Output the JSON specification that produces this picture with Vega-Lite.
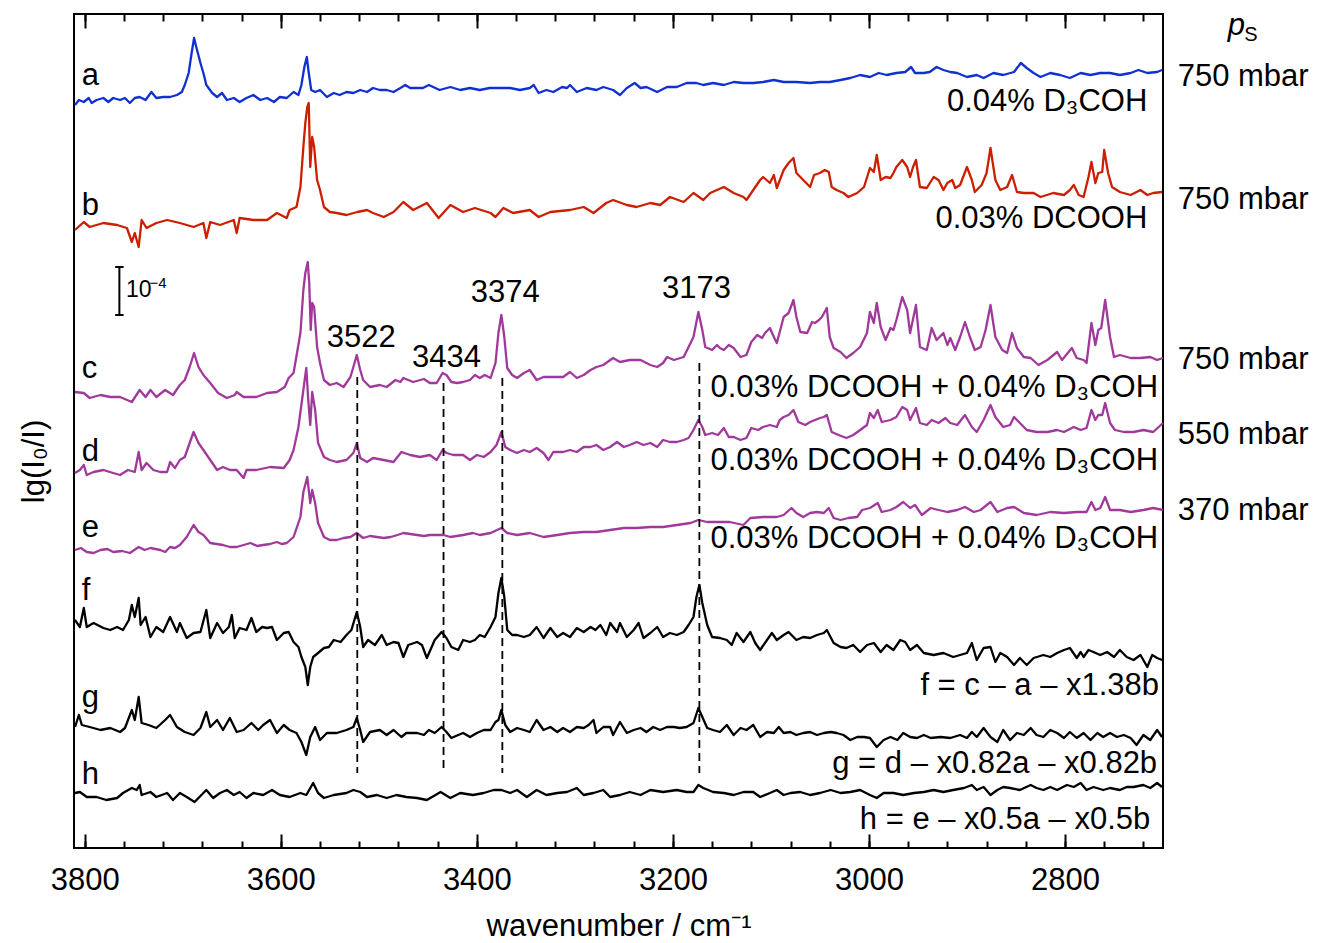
{
"$schema": "https://vega.github.io/schema/vega-lite/v6.json",
"width": 1089, "height": 834,
"autosize": {"type": "none"},
"padding": {"left": 74, "top": 14, "right": 154, "bottom": 95},
"config": {"font": "Liberation Sans", "view": {"stroke": "black", "strokeWidth": 2}, "axis": {"grid": false}},
"resolve": {"axis": {"x": "independent", "y": "independent"}},
"datasets": {
"tr": [
{"s":"a","w":3810,"v":747},{"s":"a","w":3806,"v":752},{"s":"a","w":3801,"v":750},{"s":"a","w":3796,"v":754},{"s":"a","w":3793,"v":749},{"s":"a","w":3788,"v":752},{"s":"a","w":3781,"v":754},{"s":"a","w":3776,"v":750},{"s":"a","w":3771,"v":754},{"s":"a","w":3764,"v":752},{"s":"a","w":3759,"v":754},{"s":"a","w":3754,"v":749},{"s":"a","w":3749,"v":754},{"s":"a","w":3744,"v":755},{"s":"a","w":3738,"v":752},{"s":"a","w":3732,"v":760},{"s":"a","w":3727,"v":754},{"s":"a","w":3720,"v":755},{"s":"a","w":3713,"v":755},{"s":"a","w":3706,"v":757},{"s":"a","w":3701,"v":760},{"s":"a","w":3698,"v":767},{"s":"a","w":3694,"v":779},{"s":"a","w":3691,"v":799},{"s":"a","w":3688.5,"v":814},{"s":"a","w":3686,"v":804},{"s":"a","w":3682,"v":789},{"s":"a","w":3679,"v":779},{"s":"a","w":3676,"v":767},{"s":"a","w":3670,"v":759},{"s":"a","w":3665,"v":755},{"s":"a","w":3660,"v":759},{"s":"a","w":3655,"v":752},{"s":"a","w":3648,"v":754},{"s":"a","w":3642,"v":750},{"s":"a","w":3635,"v":754},{"s":"a","w":3628,"v":757},{"s":"a","w":3621,"v":752},{"s":"a","w":3614,"v":754},{"s":"a","w":3607,"v":750},{"s":"a","w":3601,"v":755},{"s":"a","w":3594,"v":754},{"s":"a","w":3587,"v":760},{"s":"a","w":3582,"v":757},{"s":"a","w":3579,"v":767},{"s":"a","w":3576,"v":785},{"s":"a","w":3573.5,"v":795},{"s":"a","w":3571.5,"v":779},{"s":"a","w":3569,"v":762},{"s":"a","w":3565,"v":760},{"s":"a","w":3560,"v":762},{"s":"a","w":3553,"v":755},{"s":"a","w":3546,"v":759},{"s":"a","w":3540,"v":757},{"s":"a","w":3533,"v":760},{"s":"a","w":3526,"v":759},{"s":"a","w":3519,"v":762},{"s":"a","w":3512,"v":760},{"s":"a","w":3506,"v":764},{"s":"a","w":3499,"v":762},{"s":"a","w":3492,"v":762},{"s":"a","w":3485,"v":760},{"s":"a","w":3478,"v":764},{"s":"a","w":3473,"v":767},{"s":"a","w":3468,"v":764},{"s":"a","w":3461,"v":764},{"s":"a","w":3455,"v":764},{"s":"a","w":3449,"v":767},{"s":"a","w":3438,"v":762},{"s":"a","w":3427,"v":765},{"s":"a","w":3417,"v":762},{"s":"a","w":3407,"v":764},{"s":"a","w":3397,"v":762},{"s":"a","w":3387,"v":764},{"s":"a","w":3376,"v":764},{"s":"a","w":3366,"v":764},{"s":"a","w":3356,"v":762},{"s":"a","w":3346,"v":764},{"s":"a","w":3342,"v":767},{"s":"a","w":3337,"v":759},{"s":"a","w":3329,"v":762},{"s":"a","w":3322,"v":760},{"s":"a","w":3313,"v":765},{"s":"a","w":3308,"v":764},{"s":"a","w":3305,"v":767},{"s":"a","w":3298,"v":760},{"s":"a","w":3288,"v":764},{"s":"a","w":3278,"v":762},{"s":"a","w":3271,"v":765},{"s":"a","w":3261,"v":762},{"s":"a","w":3254,"v":757},{"s":"a","w":3247,"v":764},{"s":"a","w":3239,"v":769},{"s":"a","w":3233,"v":764},{"s":"a","w":3227,"v":765},{"s":"a","w":3216,"v":760},{"s":"a","w":3206,"v":765},{"s":"a","w":3196,"v":765},{"s":"a","w":3186,"v":769},{"s":"a","w":3176,"v":769},{"s":"a","w":3169,"v":767},{"s":"a","w":3159,"v":769},{"s":"a","w":3148,"v":767},{"s":"a","w":3138,"v":770},{"s":"a","w":3128,"v":769},{"s":"a","w":3118,"v":769},{"s":"a","w":3108,"v":770},{"s":"a","w":3097,"v":772},{"s":"a","w":3087,"v":770},{"s":"a","w":3074,"v":770},{"s":"a","w":3060,"v":769},{"s":"a","w":3050,"v":770},{"s":"a","w":3040,"v":770},{"s":"a","w":3029,"v":772},{"s":"a","w":3019,"v":774},{"s":"a","w":3009,"v":777},{"s":"a","w":2999,"v":775},{"s":"a","w":2990,"v":779},{"s":"a","w":2982,"v":777},{"s":"a","w":2972,"v":779},{"s":"a","w":2963,"v":780},{"s":"a","w":2957,"v":785},{"s":"a","w":2953,"v":779},{"s":"a","w":2944,"v":779},{"s":"a","w":2938,"v":780},{"s":"a","w":2931,"v":785},{"s":"a","w":2924,"v":782},{"s":"a","w":2917,"v":780},{"s":"a","w":2910,"v":779},{"s":"a","w":2900,"v":775},{"s":"a","w":2890,"v":777},{"s":"a","w":2883,"v":774},{"s":"a","w":2873,"v":779},{"s":"a","w":2863,"v":777},{"s":"a","w":2852,"v":780},{"s":"a","w":2845,"v":789},{"s":"a","w":2839,"v":784},{"s":"a","w":2832,"v":779},{"s":"a","w":2825,"v":775},{"s":"a","w":2815,"v":779},{"s":"a","w":2805,"v":777},{"s":"a","w":2795,"v":774},{"s":"a","w":2784,"v":779},{"s":"a","w":2774,"v":777},{"s":"a","w":2764,"v":779},{"s":"a","w":2754,"v":779},{"s":"a","w":2744,"v":777},{"s":"a","w":2733,"v":779},{"s":"a","w":2725,"v":782},{"s":"a","w":2716,"v":779},{"s":"a","w":2706,"v":780},{"s":"a","w":2701,"v":782},
{"s":"b","w":3810,"v":622},{"s":"b","w":3801,"v":630},{"s":"b","w":3795,"v":625},{"s":"b","w":3781,"v":629},{"s":"b","w":3767,"v":627},{"s":"b","w":3757,"v":624},{"s":"b","w":3752,"v":610},{"s":"b","w":3749,"v":619},{"s":"b","w":3745,"v":605},{"s":"b","w":3742,"v":632},{"s":"b","w":3737,"v":624},{"s":"b","w":3727,"v":629},{"s":"b","w":3716,"v":632},{"s":"b","w":3703,"v":629},{"s":"b","w":3689,"v":625},{"s":"b","w":3679,"v":629},{"s":"b","w":3676,"v":614},{"s":"b","w":3672,"v":630},{"s":"b","w":3662,"v":627},{"s":"b","w":3648,"v":632},{"s":"b","w":3645,"v":619},{"s":"b","w":3642,"v":634},{"s":"b","w":3628,"v":632},{"s":"b","w":3614,"v":632},{"s":"b","w":3604,"v":639},{"s":"b","w":3594,"v":634},{"s":"b","w":3591,"v":642},{"s":"b","w":3584,"v":645},{"s":"b","w":3580,"v":665},{"s":"b","w":3577,"v":705},{"s":"b","w":3575,"v":729},{"s":"b","w":3573,"v":745},{"s":"b","w":3571.5,"v":749},{"s":"b","w":3570,"v":685},{"s":"b","w":3568,"v":715},{"s":"b","w":3566,"v":705},{"s":"b","w":3563,"v":672},{"s":"b","w":3560,"v":662},{"s":"b","w":3556,"v":645},{"s":"b","w":3550,"v":640},{"s":"b","w":3543,"v":639},{"s":"b","w":3533,"v":637},{"s":"b","w":3522,"v":640},{"s":"b","w":3512,"v":642},{"s":"b","w":3506,"v":639},{"s":"b","w":3495,"v":635},{"s":"b","w":3485,"v":640},{"s":"b","w":3475,"v":650},{"s":"b","w":3465,"v":642},{"s":"b","w":3451,"v":649},{"s":"b","w":3439,"v":634},{"s":"b","w":3427,"v":647},{"s":"b","w":3414,"v":640},{"s":"b","w":3402,"v":644},{"s":"b","w":3386,"v":639},{"s":"b","w":3381,"v":635},{"s":"b","w":3373,"v":644},{"s":"b","w":3363,"v":639},{"s":"b","w":3346,"v":642},{"s":"b","w":3337,"v":635},{"s":"b","w":3325,"v":640},{"s":"b","w":3305,"v":642},{"s":"b","w":3291,"v":645},{"s":"b","w":3281,"v":639},{"s":"b","w":3268,"v":649},{"s":"b","w":3261,"v":652},{"s":"b","w":3247,"v":647},{"s":"b","w":3237,"v":645},{"s":"b","w":3223,"v":649},{"s":"b","w":3213,"v":647},{"s":"b","w":3203,"v":655},{"s":"b","w":3189,"v":650},{"s":"b","w":3179,"v":659},{"s":"b","w":3169,"v":652},{"s":"b","w":3162,"v":659},{"s":"b","w":3148,"v":665},{"s":"b","w":3138,"v":659},{"s":"b","w":3128,"v":655},{"s":"b","w":3125,"v":652},{"s":"b","w":3118,"v":662},{"s":"b","w":3111,"v":672},{"s":"b","w":3108,"v":675},{"s":"b","w":3101,"v":669},{"s":"b","w":3097,"v":677},{"s":"b","w":3094,"v":664},{"s":"b","w":3087,"v":682},{"s":"b","w":3082,"v":689},{"s":"b","w":3077,"v":694},{"s":"b","w":3074,"v":679},{"s":"b","w":3067,"v":672},{"s":"b","w":3060,"v":665},{"s":"b","w":3056,"v":677},{"s":"b","w":3050,"v":679},{"s":"b","w":3045,"v":682},{"s":"b","w":3041,"v":680},{"s":"b","w":3038,"v":665},{"s":"b","w":3033,"v":662},{"s":"b","w":3026,"v":659},{"s":"b","w":3021,"v":655},{"s":"b","w":3012,"v":659},{"s":"b","w":3005,"v":665},{"s":"b","w":2999,"v":684},{"s":"b","w":2995,"v":680},{"s":"b","w":2992,"v":697},{"s":"b","w":2988,"v":672},{"s":"b","w":2983,"v":675},{"s":"b","w":2978,"v":674},{"s":"b","w":2975,"v":679},{"s":"b","w":2972,"v":685},{"s":"b","w":2966,"v":692},{"s":"b","w":2961,"v":685},{"s":"b","w":2958,"v":675},{"s":"b","w":2955,"v":685},{"s":"b","w":2952,"v":692},{"s":"b","w":2948,"v":665},{"s":"b","w":2941,"v":664},{"s":"b","w":2934,"v":675},{"s":"b","w":2929,"v":672},{"s":"b","w":2924,"v":662},{"s":"b","w":2920,"v":669},{"s":"b","w":2915,"v":672},{"s":"b","w":2912,"v":664},{"s":"b","w":2907,"v":667},{"s":"b","w":2900,"v":685},{"s":"b","w":2895,"v":672},{"s":"b","w":2892,"v":660},{"s":"b","w":2885,"v":667},{"s":"b","w":2880,"v":679},{"s":"b","w":2876,"v":704},{"s":"b","w":2871,"v":672},{"s":"b","w":2866,"v":662},{"s":"b","w":2859,"v":665},{"s":"b","w":2854,"v":677},{"s":"b","w":2849,"v":660},{"s":"b","w":2842,"v":659},{"s":"b","w":2832,"v":659},{"s":"b","w":2825,"v":655},{"s":"b","w":2812,"v":659},{"s":"b","w":2801,"v":657},{"s":"b","w":2795,"v":662},{"s":"b","w":2791,"v":667},{"s":"b","w":2786,"v":657},{"s":"b","w":2781,"v":655},{"s":"b","w":2776,"v":675},{"s":"b","w":2773,"v":690},{"s":"b","w":2769,"v":669},{"s":"b","w":2766,"v":679},{"s":"b","w":2762,"v":680},{"s":"b","w":2760,"v":702},{"s":"b","w":2756,"v":679},{"s":"b","w":2752,"v":665},{"s":"b","w":2744,"v":660},{"s":"b","w":2733,"v":657},{"s":"b","w":2723,"v":662},{"s":"b","w":2716,"v":657},{"s":"b","w":2710,"v":659},{"s":"b","w":2701,"v":660},
{"s":"c","w":3810,"v":460},{"s":"c","w":3801,"v":459},{"s":"c","w":3795,"v":454},{"s":"c","w":3784,"v":457},{"s":"c","w":3774,"v":455},{"s":"c","w":3764,"v":455},{"s":"c","w":3752,"v":450},{"s":"c","w":3744,"v":462},{"s":"c","w":3738,"v":455},{"s":"c","w":3733,"v":462},{"s":"c","w":3727,"v":455},{"s":"c","w":3718,"v":462},{"s":"c","w":3710,"v":457},{"s":"c","w":3703,"v":467},{"s":"c","w":3698,"v":472},{"s":"c","w":3693,"v":485},{"s":"c","w":3688.5,"v":499},{"s":"c","w":3684,"v":485},{"s":"c","w":3679,"v":477},{"s":"c","w":3672,"v":469},{"s":"c","w":3664,"v":459},{"s":"c","w":3655,"v":454},{"s":"c","w":3647,"v":457},{"s":"c","w":3645,"v":460},{"s":"c","w":3638,"v":455},{"s":"c","w":3625,"v":455},{"s":"c","w":3614,"v":459},{"s":"c","w":3604,"v":460},{"s":"c","w":3596,"v":465},{"s":"c","w":3592,"v":474},{"s":"c","w":3587,"v":479},{"s":"c","w":3580,"v":519},{"s":"c","w":3577,"v":562},{"s":"c","w":3575,"v":579},{"s":"c","w":3572.5,"v":590},{"s":"c","w":3571,"v":569},{"s":"c","w":3569.5,"v":522},{"s":"c","w":3568,"v":549},{"s":"c","w":3566,"v":545},{"s":"c","w":3563,"v":505},{"s":"c","w":3560,"v":489},{"s":"c","w":3556,"v":472},{"s":"c","w":3550,"v":467},{"s":"c","w":3543,"v":469},{"s":"c","w":3536,"v":465},{"s":"c","w":3529,"v":475},{"s":"c","w":3526,"v":485},{"s":"c","w":3522.5,"v":497},{"s":"c","w":3519,"v":482},{"s":"c","w":3516,"v":472},{"s":"c","w":3509,"v":465},{"s":"c","w":3499,"v":467},{"s":"c","w":3492,"v":465},{"s":"c","w":3483,"v":472},{"s":"c","w":3478,"v":470},{"s":"c","w":3475,"v":474},{"s":"c","w":3465,"v":470},{"s":"c","w":3454,"v":473},{"s":"c","w":3448,"v":469},{"s":"c","w":3441,"v":469},{"s":"c","w":3435,"v":479},{"s":"c","w":3431,"v":477},{"s":"c","w":3426,"v":470},{"s":"c","w":3420,"v":469},{"s":"c","w":3414,"v":470},{"s":"c","w":3407,"v":472},{"s":"c","w":3402,"v":477},{"s":"c","w":3397,"v":474},{"s":"c","w":3392,"v":477},{"s":"c","w":3386,"v":474},{"s":"c","w":3381,"v":489},{"s":"c","w":3378,"v":519},{"s":"c","w":3375,"v":537},{"s":"c","w":3372,"v":515},{"s":"c","w":3369,"v":484},{"s":"c","w":3364,"v":477},{"s":"c","w":3359,"v":474},{"s":"c","w":3352,"v":479},{"s":"c","w":3346,"v":482},{"s":"c","w":3339,"v":472},{"s":"c","w":3332,"v":475},{"s":"c","w":3322,"v":475},{"s":"c","w":3312,"v":475},{"s":"c","w":3305,"v":480},{"s":"c","w":3298,"v":474},{"s":"c","w":3291,"v":477},{"s":"c","w":3284,"v":482},{"s":"c","w":3278,"v":485},{"s":"c","w":3271,"v":487},{"s":"c","w":3261,"v":494},{"s":"c","w":3254,"v":490},{"s":"c","w":3244,"v":492},{"s":"c","w":3233,"v":492},{"s":"c","w":3223,"v":487},{"s":"c","w":3216,"v":485},{"s":"c","w":3210,"v":489},{"s":"c","w":3206,"v":495},{"s":"c","w":3199,"v":492},{"s":"c","w":3189,"v":495},{"s":"c","w":3179,"v":515},{"s":"c","w":3174,"v":540},{"s":"c","w":3170,"v":522},{"s":"c","w":3167,"v":505},{"s":"c","w":3160,"v":502},{"s":"c","w":3155,"v":507},{"s":"c","w":3152,"v":504},{"s":"c","w":3148,"v":502},{"s":"c","w":3143,"v":507},{"s":"c","w":3138,"v":504},{"s":"c","w":3131,"v":495},{"s":"c","w":3125,"v":497},{"s":"c","w":3120,"v":510},{"s":"c","w":3114,"v":517},{"s":"c","w":3109,"v":514},{"s":"c","w":3106,"v":519},{"s":"c","w":3101,"v":524},{"s":"c","w":3097,"v":515},{"s":"c","w":3094,"v":509},{"s":"c","w":3091,"v":520},{"s":"c","w":3087,"v":535},{"s":"c","w":3082,"v":539},{"s":"c","w":3077,"v":552},{"s":"c","w":3074,"v":535},{"s":"c","w":3070,"v":520},{"s":"c","w":3063,"v":519},{"s":"c","w":3058,"v":530},{"s":"c","w":3055,"v":529},{"s":"c","w":3051,"v":532},{"s":"c","w":3048,"v":535},{"s":"c","w":3043,"v":544},{"s":"c","w":3040,"v":515},{"s":"c","w":3036,"v":504},{"s":"c","w":3029,"v":500},{"s":"c","w":3023,"v":494},{"s":"c","w":3016,"v":499},{"s":"c","w":3009,"v":505},{"s":"c","w":3002,"v":519},{"s":"c","w":2999,"v":540},{"s":"c","w":2995,"v":529},{"s":"c","w":2992,"v":549},{"s":"c","w":2988,"v":525},{"s":"c","w":2983,"v":512},{"s":"c","w":2978,"v":524},{"s":"c","w":2975,"v":522},{"s":"c","w":2972,"v":532},{"s":"c","w":2966,"v":555},{"s":"c","w":2961,"v":542},{"s":"c","w":2958,"v":519},{"s":"c","w":2952,"v":547},{"s":"c","w":2948,"v":505},{"s":"c","w":2941,"v":502},{"s":"c","w":2936,"v":524},{"s":"c","w":2931,"v":512},{"s":"c","w":2924,"v":519},{"s":"c","w":2920,"v":507},{"s":"c","w":2917,"v":514},{"s":"c","w":2912,"v":502},{"s":"c","w":2907,"v":515},{"s":"c","w":2902,"v":530},{"s":"c","w":2897,"v":515},{"s":"c","w":2892,"v":502},{"s":"c","w":2886,"v":505},{"s":"c","w":2881,"v":522},{"s":"c","w":2876,"v":547},{"s":"c","w":2871,"v":515},{"s":"c","w":2864,"v":502},{"s":"c","w":2859,"v":499},{"s":"c","w":2854,"v":519},{"s":"c","w":2849,"v":504},{"s":"c","w":2842,"v":495},{"s":"c","w":2835,"v":494},{"s":"c","w":2827,"v":487},{"s":"c","w":2818,"v":492},{"s":"c","w":2808,"v":500},{"s":"c","w":2803,"v":492},{"s":"c","w":2793,"v":504},{"s":"c","w":2788,"v":494},{"s":"c","w":2781,"v":492},{"s":"c","w":2778,"v":489},{"s":"c","w":2773,"v":529},{"s":"c","w":2769,"v":507},{"s":"c","w":2766,"v":522},{"s":"c","w":2763,"v":524},{"s":"c","w":2759,"v":552},{"s":"c","w":2754,"v":515},{"s":"c","w":2750,"v":495},{"s":"c","w":2744,"v":497},{"s":"c","w":2733,"v":494},{"s":"c","w":2723,"v":494},{"s":"c","w":2713,"v":495},{"s":"c","w":2706,"v":492},{"s":"c","w":2700,"v":494},
{"s":"d","w":3810,"v":379},{"s":"d","w":3805,"v":382},{"s":"d","w":3801,"v":387},{"s":"d","w":3798,"v":377},{"s":"d","w":3791,"v":380},{"s":"d","w":3781,"v":382},{"s":"d","w":3771,"v":379},{"s":"d","w":3764,"v":377},{"s":"d","w":3756,"v":382},{"s":"d","w":3749,"v":380},{"s":"d","w":3745,"v":400},{"s":"d","w":3742,"v":382},{"s":"d","w":3737,"v":389},{"s":"d","w":3730,"v":382},{"s":"d","w":3723,"v":380},{"s":"d","w":3716,"v":380},{"s":"d","w":3713,"v":390},{"s":"d","w":3708,"v":384},{"s":"d","w":3703,"v":392},{"s":"d","w":3698,"v":395},{"s":"d","w":3693,"v":409},{"s":"d","w":3689,"v":420},{"s":"d","w":3684,"v":409},{"s":"d","w":3679,"v":402},{"s":"d","w":3672,"v":392},{"s":"d","w":3665,"v":382},{"s":"d","w":3659,"v":385},{"s":"d","w":3652,"v":382},{"s":"d","w":3645,"v":382},{"s":"d","w":3638,"v":374},{"s":"d","w":3635,"v":382},{"s":"d","w":3625,"v":382},{"s":"d","w":3611,"v":385},{"s":"d","w":3597,"v":384},{"s":"d","w":3591,"v":392},{"s":"d","w":3587,"v":402},{"s":"d","w":3582,"v":425},{"s":"d","w":3577,"v":462},{"s":"d","w":3574,"v":484},{"s":"d","w":3572,"v":452},{"s":"d","w":3570,"v":427},{"s":"d","w":3568,"v":460},{"s":"d","w":3565,"v":442},{"s":"d","w":3562,"v":409},{"s":"d","w":3556,"v":395},{"s":"d","w":3550,"v":392},{"s":"d","w":3543,"v":390},{"s":"d","w":3533,"v":392},{"s":"d","w":3526,"v":399},{"s":"d","w":3522.5,"v":409},{"s":"d","w":3519,"v":394},{"s":"d","w":3512,"v":390},{"s":"d","w":3506,"v":394},{"s":"d","w":3495,"v":392},{"s":"d","w":3485,"v":390},{"s":"d","w":3477,"v":400},{"s":"d","w":3468,"v":397},{"s":"d","w":3458,"v":395},{"s":"d","w":3448,"v":397},{"s":"d","w":3441,"v":392},{"s":"d","w":3435,"v":402},{"s":"d","w":3431,"v":399},{"s":"d","w":3424,"v":397},{"s":"d","w":3414,"v":397},{"s":"d","w":3407,"v":392},{"s":"d","w":3400,"v":397},{"s":"d","w":3393,"v":395},{"s":"d","w":3386,"v":400},{"s":"d","w":3380,"v":407},{"s":"d","w":3375,"v":420},{"s":"d","w":3371,"v":405},{"s":"d","w":3366,"v":402},{"s":"d","w":3359,"v":399},{"s":"d","w":3352,"v":402},{"s":"d","w":3346,"v":400},{"s":"d","w":3339,"v":404},{"s":"d","w":3332,"v":399},{"s":"d","w":3327,"v":392},{"s":"d","w":3322,"v":400},{"s":"d","w":3312,"v":400},{"s":"d","w":3305,"v":402},{"s":"d","w":3298,"v":400},{"s":"d","w":3291,"v":405},{"s":"d","w":3284,"v":405},{"s":"d","w":3278,"v":407},{"s":"d","w":3271,"v":402},{"s":"d","w":3264,"v":405},{"s":"d","w":3257,"v":410},{"s":"d","w":3250,"v":405},{"s":"d","w":3244,"v":407},{"s":"d","w":3237,"v":410},{"s":"d","w":3230,"v":407},{"s":"d","w":3223,"v":409},{"s":"d","w":3216,"v":405},{"s":"d","w":3210,"v":412},{"s":"d","w":3203,"v":410},{"s":"d","w":3196,"v":410},{"s":"d","w":3189,"v":412},{"s":"d","w":3184,"v":414},{"s":"d","w":3179,"v":422},{"s":"d","w":3174,"v":432},{"s":"d","w":3170,"v":425},{"s":"d","w":3167,"v":417},{"s":"d","w":3160,"v":419},{"s":"d","w":3154,"v":417},{"s":"d","w":3148,"v":424},{"s":"d","w":3143,"v":415},{"s":"d","w":3138,"v":415},{"s":"d","w":3131,"v":412},{"s":"d","w":3125,"v":414},{"s":"d","w":3120,"v":424},{"s":"d","w":3113,"v":422},{"s":"d","w":3108,"v":425},{"s":"d","w":3101,"v":427},{"s":"d","w":3094,"v":425},{"s":"d","w":3091,"v":432},{"s":"d","w":3087,"v":435},{"s":"d","w":3082,"v":437},{"s":"d","w":3077,"v":442},{"s":"d","w":3072,"v":430},{"s":"d","w":3065,"v":427},{"s":"d","w":3060,"v":430},{"s":"d","w":3055,"v":432},{"s":"d","w":3050,"v":434},{"s":"d","w":3046,"v":435},{"s":"d","w":3043,"v":437},{"s":"d","w":3038,"v":420},{"s":"d","w":3031,"v":417},{"s":"d","w":3023,"v":414},{"s":"d","w":3016,"v":417},{"s":"d","w":3009,"v":422},{"s":"d","w":3002,"v":427},{"s":"d","w":2999,"v":439},{"s":"d","w":2995,"v":434},{"s":"d","w":2991,"v":442},{"s":"d","w":2987,"v":430},{"s":"d","w":2978,"v":432},{"s":"d","w":2972,"v":435},{"s":"d","w":2966,"v":445},{"s":"d","w":2961,"v":442},{"s":"d","w":2958,"v":432},{"s":"d","w":2952,"v":444},{"s":"d","w":2948,"v":429},{"s":"d","w":2941,"v":427},{"s":"d","w":2936,"v":432},{"s":"d","w":2929,"v":429},{"s":"d","w":2922,"v":434},{"s":"d","w":2917,"v":429},{"s":"d","w":2910,"v":427},{"s":"d","w":2902,"v":437},{"s":"d","w":2895,"v":425},{"s":"d","w":2890,"v":420},{"s":"d","w":2883,"v":432},{"s":"d","w":2876,"v":447},{"s":"d","w":2871,"v":435},{"s":"d","w":2863,"v":425},{"s":"d","w":2856,"v":427},{"s":"d","w":2852,"v":435},{"s":"d","w":2846,"v":429},{"s":"d","w":2839,"v":422},{"s":"d","w":2829,"v":420},{"s":"d","w":2818,"v":420},{"s":"d","w":2808,"v":422},{"s":"d","w":2801,"v":420},{"s":"d","w":2791,"v":425},{"s":"d","w":2784,"v":422},{"s":"d","w":2778,"v":424},{"s":"d","w":2773,"v":442},{"s":"d","w":2769,"v":432},{"s":"d","w":2766,"v":437},{"s":"d","w":2762,"v":437},{"s":"d","w":2759,"v":449},{"s":"d","w":2754,"v":429},{"s":"d","w":2749,"v":422},{"s":"d","w":2740,"v":420},{"s":"d","w":2730,"v":420},{"s":"d","w":2720,"v":422},{"s":"d","w":2710,"v":420},{"s":"d","w":2700,"v":429},
{"s":"e","w":3810,"v":302},{"s":"e","w":3804,"v":304},{"s":"e","w":3798,"v":300},{"s":"e","w":3791,"v":299},{"s":"e","w":3784,"v":302},{"s":"e","w":3777,"v":303},{"s":"e","w":3771,"v":300},{"s":"e","w":3762,"v":301},{"s":"e","w":3754,"v":299},{"s":"e","w":3745,"v":305},{"s":"e","w":3739,"v":302},{"s":"e","w":3733,"v":304},{"s":"e","w":3723,"v":302},{"s":"e","w":3718,"v":300},{"s":"e","w":3713,"v":305},{"s":"e","w":3708,"v":304},{"s":"e","w":3703,"v":307},{"s":"e","w":3696,"v":315},{"s":"e","w":3689,"v":327},{"s":"e","w":3684,"v":320},{"s":"e","w":3679,"v":317},{"s":"e","w":3672,"v":309},{"s":"e","w":3659,"v":307},{"s":"e","w":3652,"v":305},{"s":"e","w":3645,"v":305},{"s":"e","w":3638,"v":307},{"s":"e","w":3631,"v":309},{"s":"e","w":3624,"v":306},{"s":"e","w":3618,"v":307},{"s":"e","w":3611,"v":308},{"s":"e","w":3604,"v":310},{"s":"e","w":3599,"v":308},{"s":"e","w":3594,"v":309},{"s":"e","w":3587,"v":315},{"s":"e","w":3580,"v":335},{"s":"e","w":3577,"v":360},{"s":"e","w":3573,"v":375},{"s":"e","w":3570,"v":349},{"s":"e","w":3568,"v":362},{"s":"e","w":3565,"v":349},{"s":"e","w":3562,"v":329},{"s":"e","w":3556,"v":315},{"s":"e","w":3550,"v":312},{"s":"e","w":3543,"v":312},{"s":"e","w":3536,"v":314},{"s":"e","w":3529,"v":315},{"s":"e","w":3522.5,"v":319},{"s":"e","w":3516,"v":314},{"s":"e","w":3509,"v":316},{"s":"e","w":3502,"v":315},{"s":"e","w":3495,"v":314},{"s":"e","w":3488,"v":315},{"s":"e","w":3481,"v":317},{"s":"e","w":3475,"v":319},{"s":"e","w":3468,"v":318},{"s":"e","w":3461,"v":317},{"s":"e","w":3454,"v":316},{"s":"e","w":3448,"v":317},{"s":"e","w":3434,"v":317},{"s":"e","w":3427,"v":315},{"s":"e","w":3414,"v":317},{"s":"e","w":3404,"v":319},{"s":"e","w":3397,"v":317},{"s":"e","w":3386,"v":319},{"s":"e","w":3375,"v":324},{"s":"e","w":3369,"v":319},{"s":"e","w":3359,"v":317},{"s":"e","w":3346,"v":319},{"s":"e","w":3332,"v":315},{"s":"e","w":3318,"v":317},{"s":"e","w":3305,"v":319},{"s":"e","w":3291,"v":320},{"s":"e","w":3278,"v":320},{"s":"e","w":3264,"v":322},{"s":"e","w":3250,"v":324},{"s":"e","w":3237,"v":324},{"s":"e","w":3223,"v":325},{"s":"e","w":3210,"v":325},{"s":"e","w":3196,"v":327},{"s":"e","w":3182,"v":329},{"s":"e","w":3174,"v":332},{"s":"e","w":3165,"v":330},{"s":"e","w":3155,"v":330},{"s":"e","w":3142,"v":330},{"s":"e","w":3128,"v":327},{"s":"e","w":3121,"v":334},{"s":"e","w":3108,"v":335},{"s":"e","w":3094,"v":335},{"s":"e","w":3087,"v":337},{"s":"e","w":3079,"v":344},{"s":"e","w":3074,"v":339},{"s":"e","w":3067,"v":335},{"s":"e","w":3060,"v":339},{"s":"e","w":3053,"v":340},{"s":"e","w":3046,"v":339},{"s":"e","w":3041,"v":344},{"s":"e","w":3036,"v":334},{"s":"e","w":3029,"v":332},{"s":"e","w":3021,"v":334},{"s":"e","w":3012,"v":335},{"s":"e","w":3007,"v":342},{"s":"e","w":2999,"v":344},{"s":"e","w":2991,"v":349},{"s":"e","w":2987,"v":340},{"s":"e","w":2978,"v":342},{"s":"e","w":2972,"v":345},{"s":"e","w":2965,"v":350},{"s":"e","w":2958,"v":344},{"s":"e","w":2953,"v":347},{"s":"e","w":2946,"v":337},{"s":"e","w":2937,"v":344},{"s":"e","w":2929,"v":342},{"s":"e","w":2920,"v":340},{"s":"e","w":2910,"v":342},{"s":"e","w":2902,"v":345},{"s":"e","w":2893,"v":340},{"s":"e","w":2886,"v":342},{"s":"e","w":2876,"v":350},{"s":"e","w":2869,"v":340},{"s":"e","w":2859,"v":344},{"s":"e","w":2852,"v":345},{"s":"e","w":2842,"v":339},{"s":"e","w":2829,"v":337},{"s":"e","w":2815,"v":340},{"s":"e","w":2801,"v":339},{"s":"e","w":2788,"v":340},{"s":"e","w":2778,"v":340},{"s":"e","w":2773,"v":350},{"s":"e","w":2769,"v":342},{"s":"e","w":2764,"v":344},{"s":"e","w":2759,"v":355},{"s":"e","w":2754,"v":342},{"s":"e","w":2744,"v":342},{"s":"e","w":2733,"v":340},{"s":"e","w":2720,"v":342},{"s":"e","w":2710,"v":344},{"s":"e","w":2700,"v":342},
{"s":"f","w":3810,"v":232},{"s":"f","w":3805,"v":225},{"s":"f","w":3801,"v":244},{"s":"f","w":3798,"v":225},{"s":"f","w":3791,"v":229},{"s":"f","w":3781,"v":224},{"s":"f","w":3774,"v":222},{"s":"f","w":3767,"v":225},{"s":"f","w":3761,"v":222},{"s":"f","w":3755,"v":232},{"s":"f","w":3752,"v":247},{"s":"f","w":3749,"v":235},{"s":"f","w":3745,"v":254},{"s":"f","w":3743,"v":227},{"s":"f","w":3738,"v":235},{"s":"f","w":3733,"v":215},{"s":"f","w":3727,"v":225},{"s":"f","w":3720,"v":220},{"s":"f","w":3713,"v":235},{"s":"f","w":3706,"v":220},{"s":"f","w":3703,"v":229},{"s":"f","w":3696,"v":214},{"s":"f","w":3689,"v":219},{"s":"f","w":3682,"v":220},{"s":"f","w":3676,"v":242},{"s":"f","w":3672,"v":214},{"s":"f","w":3665,"v":229},{"s":"f","w":3659,"v":219},{"s":"f","w":3653,"v":225},{"s":"f","w":3650,"v":237},{"s":"f","w":3647,"v":214},{"s":"f","w":3642,"v":224},{"s":"f","w":3635,"v":222},{"s":"f","w":3630,"v":234},{"s":"f","w":3625,"v":220},{"s":"f","w":3619,"v":225},{"s":"f","w":3614,"v":224},{"s":"f","w":3609,"v":225},{"s":"f","w":3604,"v":212},{"s":"f","w":3597,"v":219},{"s":"f","w":3592,"v":220},{"s":"f","w":3587,"v":210},{"s":"f","w":3582,"v":205},{"s":"f","w":3579,"v":195},{"s":"f","w":3575,"v":185},{"s":"f","w":3572.5,"v":167},{"s":"f","w":3570,"v":185},{"s":"f","w":3567,"v":195},{"s":"f","w":3562,"v":199},{"s":"f","w":3556,"v":204},{"s":"f","w":3551,"v":205},{"s":"f","w":3546,"v":212},{"s":"f","w":3539,"v":210},{"s":"f","w":3533,"v":217},{"s":"f","w":3528,"v":222},{"s":"f","w":3522.5,"v":240},{"s":"f","w":3519,"v":225},{"s":"f","w":3516,"v":205},{"s":"f","w":3511,"v":212},{"s":"f","w":3504,"v":207},{"s":"f","w":3497,"v":217},{"s":"f","w":3492,"v":207},{"s":"f","w":3485,"v":210},{"s":"f","w":3480,"v":209},{"s":"f","w":3475,"v":195},{"s":"f","w":3470,"v":207},{"s":"f","w":3461,"v":210},{"s":"f","w":3456,"v":207},{"s":"f","w":3451,"v":194},{"s":"f","w":3443,"v":212},{"s":"f","w":3436,"v":220},{"s":"f","w":3431,"v":214},{"s":"f","w":3426,"v":205},{"s":"f","w":3419,"v":202},{"s":"f","w":3414,"v":212},{"s":"f","w":3407,"v":210},{"s":"f","w":3402,"v":212},{"s":"f","w":3397,"v":217},{"s":"f","w":3392,"v":215},{"s":"f","w":3386,"v":225},{"s":"f","w":3381,"v":235},{"s":"f","w":3378,"v":259},{"s":"f","w":3375,"v":274},{"s":"f","w":3372,"v":255},{"s":"f","w":3369,"v":222},{"s":"f","w":3364,"v":217},{"s":"f","w":3359,"v":217},{"s":"f","w":3352,"v":215},{"s":"f","w":3346,"v":217},{"s":"f","w":3339,"v":225},{"s":"f","w":3332,"v":214},{"s":"f","w":3325,"v":224},{"s":"f","w":3318,"v":215},{"s":"f","w":3312,"v":219},{"s":"f","w":3305,"v":215},{"s":"f","w":3298,"v":224},{"s":"f","w":3291,"v":220},{"s":"f","w":3284,"v":225},{"s":"f","w":3279,"v":222},{"s":"f","w":3274,"v":227},{"s":"f","w":3268,"v":217},{"s":"f","w":3264,"v":229},{"s":"f","w":3257,"v":220},{"s":"f","w":3254,"v":229},{"s":"f","w":3247,"v":215},{"s":"f","w":3240,"v":222},{"s":"f","w":3235,"v":229},{"s":"f","w":3230,"v":214},{"s":"f","w":3223,"v":219},{"s":"f","w":3216,"v":225},{"s":"f","w":3210,"v":215},{"s":"f","w":3203,"v":219},{"s":"f","w":3196,"v":217},{"s":"f","w":3189,"v":220},{"s":"f","w":3184,"v":227},{"s":"f","w":3179,"v":235},{"s":"f","w":3176,"v":255},{"s":"f","w":3173,"v":267},{"s":"f","w":3170,"v":249},{"s":"f","w":3165,"v":227},{"s":"f","w":3160,"v":215},{"s":"f","w":3152,"v":214},{"s":"f","w":3145,"v":212},{"s":"f","w":3140,"v":207},{"s":"f","w":3135,"v":219},{"s":"f","w":3128,"v":210},{"s":"f","w":3121,"v":220},{"s":"f","w":3116,"v":209},{"s":"f","w":3111,"v":202},{"s":"f","w":3104,"v":212},{"s":"f","w":3099,"v":219},{"s":"f","w":3094,"v":212},{"s":"f","w":3087,"v":217},{"s":"f","w":3082,"v":220},{"s":"f","w":3074,"v":212},{"s":"f","w":3067,"v":215},{"s":"f","w":3060,"v":214},{"s":"f","w":3053,"v":217},{"s":"f","w":3046,"v":219},{"s":"f","w":3043,"v":222},{"s":"f","w":3036,"v":209},{"s":"f","w":3029,"v":205},{"s":"f","w":3023,"v":204},{"s":"f","w":3016,"v":207},{"s":"f","w":3009,"v":200},{"s":"f","w":3002,"v":207},{"s":"f","w":2995,"v":209},{"s":"f","w":2988,"v":200},{"s":"f","w":2982,"v":207},{"s":"f","w":2975,"v":202},{"s":"f","w":2968,"v":212},{"s":"f","w":2963,"v":210},{"s":"f","w":2958,"v":202},{"s":"f","w":2951,"v":207},{"s":"f","w":2944,"v":199},{"s":"f","w":2934,"v":197},{"s":"f","w":2924,"v":199},{"s":"f","w":2914,"v":195},{"s":"f","w":2907,"v":197},{"s":"f","w":2900,"v":199},{"s":"f","w":2895,"v":209},{"s":"f","w":2890,"v":192},{"s":"f","w":2883,"v":204},{"s":"f","w":2876,"v":205},{"s":"f","w":2871,"v":190},{"s":"f","w":2866,"v":199},{"s":"f","w":2859,"v":195},{"s":"f","w":2852,"v":187},{"s":"f","w":2846,"v":194},{"s":"f","w":2839,"v":187},{"s":"f","w":2832,"v":194},{"s":"f","w":2822,"v":197},{"s":"f","w":2815,"v":195},{"s":"f","w":2808,"v":199},{"s":"f","w":2801,"v":202},{"s":"f","w":2795,"v":204},{"s":"f","w":2788,"v":194},{"s":"f","w":2784,"v":200},{"s":"f","w":2781,"v":195},{"s":"f","w":2776,"v":202},{"s":"f","w":2771,"v":200},{"s":"f","w":2764,"v":197},{"s":"f","w":2757,"v":200},{"s":"f","w":2750,"v":195},{"s":"f","w":2744,"v":202},{"s":"f","w":2737,"v":195},{"s":"f","w":2730,"v":192},{"s":"f","w":2723,"v":197},{"s":"f","w":2716,"v":185},{"s":"f","w":2711,"v":197},{"s":"f","w":2706,"v":194},{"s":"f","w":2701,"v":192},
{"s":"g","w":3810,"v":125},{"s":"g","w":3806,"v":137},{"s":"g","w":3803,"v":127},{"s":"g","w":3795,"v":125},{"s":"g","w":3784,"v":122},{"s":"g","w":3774,"v":124},{"s":"g","w":3764,"v":120},{"s":"g","w":3759,"v":124},{"s":"g","w":3752,"v":142},{"s":"g","w":3749,"v":132},{"s":"g","w":3745,"v":155},{"s":"g","w":3742,"v":129},{"s":"g","w":3735,"v":127},{"s":"g","w":3727,"v":124},{"s":"g","w":3718,"v":132},{"s":"g","w":3713,"v":137},{"s":"g","w":3706,"v":125},{"s":"g","w":3698,"v":120},{"s":"g","w":3689,"v":117},{"s":"g","w":3682,"v":124},{"s":"g","w":3676,"v":140},{"s":"g","w":3672,"v":125},{"s":"g","w":3665,"v":132},{"s":"g","w":3659,"v":122},{"s":"g","w":3652,"v":134},{"s":"g","w":3645,"v":120},{"s":"g","w":3638,"v":122},{"s":"g","w":3630,"v":129},{"s":"g","w":3623,"v":122},{"s":"g","w":3618,"v":127},{"s":"g","w":3611,"v":132},{"s":"g","w":3604,"v":119},{"s":"g","w":3597,"v":127},{"s":"g","w":3591,"v":122},{"s":"g","w":3584,"v":119},{"s":"g","w":3579,"v":110},{"s":"g","w":3574,"v":97},{"s":"g","w":3570,"v":115},{"s":"g","w":3565,"v":125},{"s":"g","w":3560,"v":112},{"s":"g","w":3553,"v":119},{"s":"g","w":3543,"v":119},{"s":"g","w":3533,"v":122},{"s":"g","w":3526,"v":125},{"s":"g","w":3522.5,"v":134},{"s":"g","w":3519,"v":122},{"s":"g","w":3516,"v":110},{"s":"g","w":3509,"v":120},{"s":"g","w":3499,"v":122},{"s":"g","w":3492,"v":117},{"s":"g","w":3485,"v":122},{"s":"g","w":3477,"v":115},{"s":"g","w":3472,"v":119},{"s":"g","w":3461,"v":119},{"s":"g","w":3454,"v":117},{"s":"g","w":3449,"v":122},{"s":"g","w":3443,"v":119},{"s":"g","w":3436,"v":125},{"s":"g","w":3431,"v":120},{"s":"g","w":3426,"v":114},{"s":"g","w":3419,"v":117},{"s":"g","w":3414,"v":119},{"s":"g","w":3407,"v":115},{"s":"g","w":3400,"v":119},{"s":"g","w":3393,"v":122},{"s":"g","w":3386,"v":122},{"s":"g","w":3381,"v":130},{"s":"g","w":3378,"v":132},{"s":"g","w":3375,"v":142},{"s":"g","w":3371,"v":127},{"s":"g","w":3366,"v":120},{"s":"g","w":3359,"v":124},{"s":"g","w":3352,"v":122},{"s":"g","w":3346,"v":120},{"s":"g","w":3339,"v":132},{"s":"g","w":3332,"v":122},{"s":"g","w":3325,"v":125},{"s":"g","w":3318,"v":120},{"s":"g","w":3312,"v":124},{"s":"g","w":3305,"v":120},{"s":"g","w":3298,"v":125},{"s":"g","w":3291,"v":124},{"s":"g","w":3286,"v":127},{"s":"g","w":3281,"v":132},{"s":"g","w":3278,"v":119},{"s":"g","w":3271,"v":125},{"s":"g","w":3264,"v":125},{"s":"g","w":3261,"v":117},{"s":"g","w":3254,"v":130},{"s":"g","w":3247,"v":119},{"s":"g","w":3240,"v":122},{"s":"g","w":3233,"v":124},{"s":"g","w":3227,"v":120},{"s":"g","w":3220,"v":125},{"s":"g","w":3213,"v":122},{"s":"g","w":3206,"v":125},{"s":"g","w":3199,"v":125},{"s":"g","w":3193,"v":124},{"s":"g","w":3186,"v":125},{"s":"g","w":3179,"v":129},{"s":"g","w":3174,"v":144},{"s":"g","w":3170,"v":135},{"s":"g","w":3165,"v":124},{"s":"g","w":3159,"v":122},{"s":"g","w":3152,"v":120},{"s":"g","w":3145,"v":127},{"s":"g","w":3138,"v":117},{"s":"g","w":3131,"v":124},{"s":"g","w":3125,"v":122},{"s":"g","w":3118,"v":127},{"s":"g","w":3111,"v":115},{"s":"g","w":3104,"v":120},{"s":"g","w":3097,"v":119},{"s":"g","w":3092,"v":125},{"s":"g","w":3087,"v":119},{"s":"g","w":3080,"v":120},{"s":"g","w":3074,"v":117},{"s":"g","w":3067,"v":119},{"s":"g","w":3060,"v":120},{"s":"g","w":3053,"v":117},{"s":"g","w":3046,"v":119},{"s":"g","w":3039,"v":120},{"s":"g","w":3033,"v":119},{"s":"g","w":3026,"v":117},{"s":"g","w":3019,"v":112},{"s":"g","w":3012,"v":115},{"s":"g","w":3005,"v":115},{"s":"g","w":2999,"v":114},{"s":"g","w":2992,"v":105},{"s":"g","w":2985,"v":112},{"s":"g","w":2978,"v":115},{"s":"g","w":2971,"v":112},{"s":"g","w":2965,"v":119},{"s":"g","w":2958,"v":115},{"s":"g","w":2951,"v":114},{"s":"g","w":2944,"v":117},{"s":"g","w":2937,"v":114},{"s":"g","w":2927,"v":115},{"s":"g","w":2917,"v":114},{"s":"g","w":2907,"v":117},{"s":"g","w":2900,"v":114},{"s":"g","w":2895,"v":120},{"s":"g","w":2890,"v":115},{"s":"g","w":2883,"v":124},{"s":"g","w":2876,"v":115},{"s":"g","w":2869,"v":110},{"s":"g","w":2863,"v":122},{"s":"g","w":2856,"v":112},{"s":"g","w":2849,"v":119},{"s":"g","w":2842,"v":117},{"s":"g","w":2835,"v":124},{"s":"g","w":2829,"v":117},{"s":"g","w":2822,"v":115},{"s":"g","w":2815,"v":122},{"s":"g","w":2808,"v":119},{"s":"g","w":2801,"v":114},{"s":"g","w":2795,"v":120},{"s":"g","w":2788,"v":114},{"s":"g","w":2781,"v":119},{"s":"g","w":2774,"v":112},{"s":"g","w":2767,"v":119},{"s":"g","w":2761,"v":115},{"s":"g","w":2754,"v":119},{"s":"g","w":2747,"v":115},{"s":"g","w":2740,"v":117},{"s":"g","w":2733,"v":114},{"s":"g","w":2727,"v":107},{"s":"g","w":2720,"v":117},{"s":"g","w":2713,"v":112},{"s":"g","w":2706,"v":122},{"s":"g","w":2701,"v":115},
{"s":"h","w":3810,"v":59},{"s":"h","w":3805,"v":60},{"s":"h","w":3798,"v":55},{"s":"h","w":3788,"v":55},{"s":"h","w":3778,"v":52},{"s":"h","w":3767,"v":54},{"s":"h","w":3761,"v":59},{"s":"h","w":3752,"v":64},{"s":"h","w":3747,"v":62},{"s":"h","w":3744,"v":67},{"s":"h","w":3742,"v":57},{"s":"h","w":3733,"v":60},{"s":"h","w":3727,"v":55},{"s":"h","w":3716,"v":59},{"s":"h","w":3710,"v":52},{"s":"h","w":3703,"v":59},{"s":"h","w":3696,"v":55},{"s":"h","w":3688,"v":50},{"s":"h","w":3681,"v":57},{"s":"h","w":3676,"v":62},{"s":"h","w":3669,"v":54},{"s":"h","w":3662,"v":59},{"s":"h","w":3655,"v":62},{"s":"h","w":3648,"v":57},{"s":"h","w":3642,"v":60},{"s":"h","w":3635,"v":54},{"s":"h","w":3628,"v":59},{"s":"h","w":3618,"v":57},{"s":"h","w":3609,"v":62},{"s":"h","w":3601,"v":57},{"s":"h","w":3591,"v":55},{"s":"h","w":3580,"v":59},{"s":"h","w":3574,"v":57},{"s":"h","w":3567,"v":69},{"s":"h","w":3562,"v":59},{"s":"h","w":3556,"v":54},{"s":"h","w":3546,"v":57},{"s":"h","w":3533,"v":59},{"s":"h","w":3526,"v":62},{"s":"h","w":3519,"v":60},{"s":"h","w":3512,"v":55},{"s":"h","w":3502,"v":57},{"s":"h","w":3492,"v":54},{"s":"h","w":3482,"v":57},{"s":"h","w":3472,"v":55},{"s":"h","w":3461,"v":54},{"s":"h","w":3451,"v":52},{"s":"h","w":3437,"v":60},{"s":"h","w":3427,"v":54},{"s":"h","w":3417,"v":59},{"s":"h","w":3404,"v":57},{"s":"h","w":3393,"v":59},{"s":"h","w":3383,"v":62},{"s":"h","w":3375,"v":62},{"s":"h","w":3366,"v":59},{"s":"h","w":3359,"v":62},{"s":"h","w":3349,"v":55},{"s":"h","w":3339,"v":62},{"s":"h","w":3329,"v":57},{"s":"h","w":3318,"v":59},{"s":"h","w":3308,"v":60},{"s":"h","w":3298,"v":64},{"s":"h","w":3291,"v":57},{"s":"h","w":3281,"v":59},{"s":"h","w":3271,"v":62},{"s":"h","w":3264,"v":55},{"s":"h","w":3254,"v":57},{"s":"h","w":3244,"v":60},{"s":"h","w":3233,"v":57},{"s":"h","w":3223,"v":62},{"s":"h","w":3210,"v":60},{"s":"h","w":3196,"v":62},{"s":"h","w":3186,"v":60},{"s":"h","w":3179,"v":60},{"s":"h","w":3174,"v":67},{"s":"h","w":3169,"v":64},{"s":"h","w":3159,"v":60},{"s":"h","w":3148,"v":59},{"s":"h","w":3138,"v":57},{"s":"h","w":3128,"v":60},{"s":"h","w":3118,"v":60},{"s":"h","w":3111,"v":55},{"s":"h","w":3101,"v":59},{"s":"h","w":3094,"v":62},{"s":"h","w":3087,"v":57},{"s":"h","w":3080,"v":59},{"s":"h","w":3070,"v":60},{"s":"h","w":3060,"v":57},{"s":"h","w":3050,"v":59},{"s":"h","w":3039,"v":62},{"s":"h","w":3029,"v":59},{"s":"h","w":3019,"v":60},{"s":"h","w":3009,"v":62},{"s":"h","w":2999,"v":57},{"s":"h","w":2992,"v":54},{"s":"h","w":2985,"v":59},{"s":"h","w":2975,"v":59},{"s":"h","w":2965,"v":57},{"s":"h","w":2954,"v":59},{"s":"h","w":2944,"v":60},{"s":"h","w":2934,"v":62},{"s":"h","w":2924,"v":60},{"s":"h","w":2914,"v":62},{"s":"h","w":2903,"v":64},{"s":"h","w":2895,"v":67},{"s":"h","w":2890,"v":62},{"s":"h","w":2883,"v":65},{"s":"h","w":2876,"v":57},{"s":"h","w":2869,"v":62},{"s":"h","w":2863,"v":65},{"s":"h","w":2856,"v":64},{"s":"h","w":2846,"v":62},{"s":"h","w":2835,"v":67},{"s":"h","w":2829,"v":64},{"s":"h","w":2822,"v":62},{"s":"h","w":2815,"v":65},{"s":"h","w":2808,"v":62},{"s":"h","w":2798,"v":67},{"s":"h","w":2791,"v":65},{"s":"h","w":2784,"v":69},{"s":"h","w":2778,"v":62},{"s":"h","w":2771,"v":65},{"s":"h","w":2761,"v":62},{"s":"h","w":2754,"v":64},{"s":"h","w":2744,"v":62},{"s":"h","w":2737,"v":65},{"s":"h","w":2730,"v":65},{"s":"h","w":2720,"v":67},{"s":"h","w":2713,"v":64},{"s":"h","w":2706,"v":69},{"s":"h","w":2701,"v":65}
],
"peaks": [{"w":3522,"top":475,"bot":79},{"w":3434,"top":469,"bot":79},{"w":3374,"top":474,"bot":79},{"w":3173,"top":489,"bot":79}],
"plabels": [{"t":"3522","w":3518,"v":505},{"t":"3434","w":3431,"v":485},{"t":"3374","w":3371,"v":550},{"t":"3173","w":3176,"v":554}],
"ltext": [{"t":"a","w":3803,"v":767},{"t":"b","w":3803,"v":637},{"t":"c","w":3803,"v":474},{"t":"d","w":3803,"v":391},{"t":"e","w":3803,"v":315},{"t":"f","w":3803,"v":252},{"t":"g","w":3803,"v":145},{"t":"h","w":3803,"v":68},{"t":"750 mbar","w":2685,"v":766},{"t":"750 mbar","w":2685,"v":643},{"t":"750 mbar","w":2685,"v":483},{"t":"550 mbar","w":2685,"v":408},{"t":"370 mbar","w":2685,"v":332}],
"rtext": [{"t":"0.04% D₃COH","w":2716,"v":741},{"t":"0.03% DCOOH","w":2716,"v":624},{"t":"0.03% DCOOH + 0.04% D₃COH","w":2705,"v":455},{"t":"0.03% DCOOH + 0.04% D₃COH","w":2705,"v":382},{"t":"0.03% DCOOH + 0.04% D₃COH","w":2705,"v":304},{"t":"f = c – a – x1.38b","w":2704,"v":157},{"t":"g = d – x0.82a – x0.82b","w":2706,"v":79},{"t":"h = e – x0.5a – x0.5b","w":2713,"v":23}],
"ptext": [{"t":"p","w":2634,"v":817}],
"stext": [{"t":"S","w":2617,"v":811}],
"bar": [{"w":3764.7,"v1":537,"v2":585}],
"caps": [{"w1":3769,"w2":3760.4,"v":537},{"w1":3769,"w2":3760.4,"v":585}],
"ten": [{"t":"10","w":3758,"v":555}],
"exp": [{"t":"−4","w":3734,"v":564}]
},
"layer": [
{"data": {"name": "tr"}, "mark": {"type": "line", "strokeWidth": 2.3, "strokeJoin": "round"},
 "encoding": {
  "x": {"field": "w", "type": "quantitative", "scale": {"domain": [2700, 3811], "reverse": true, "nice": false, "zero": false},
   "axis": {"orient": "bottom", "values": [3800, 3600, 3400, 3200, 3000, 2800], "format": "d", "ticks": false, "tickSize": 0, "domain": false, "labelFontSize": 31, "labelFont": "Liberation Sans", "labelColor": "black", "labelPadding": 17, "labelFlush": false, "labelOverlap": false, "title": "wavenumber / cm⁻¹", "titleFontSize": 31, "titleFont": "Liberation Sans", "titleFontWeight": "normal", "titleColor": "black", "titleY": 87, "titleBaseline": "alphabetic"}},
  "y": {"field": "v", "type": "quantitative", "scale": {"domain": [4, 838], "nice": false, "zero": false},
   "axis": {"title": "lg(I₀/I)", "domain": false, "ticks": false, "labels": false, "titleFontSize": 31, "titleFont": "Liberation Sans", "titleFontWeight": "normal", "titleColor": "black", "titleAngle": 270, "titleX": -31, "titleY": 447, "titleBaseline": "alphabetic", "titleAlign": "center"}},
  "color": {"field": "s", "type": "nominal", "legend": null, "scale": {"domain": ["a","b","c","d","e","f","g","h"], "range": ["#1030d4","#cc1f00","#a0399b","#a0399b","#a0399b","#000000","#000000","#000000"]}}
 }},
{"data": {"name": "peaks"}, "mark": {"type": "rule", "strokeDash": [8, 5], "strokeWidth": 1.8, "color": "black"},
 "encoding": {
  "x": {"field": "w", "type": "quantitative", "scale": {"domain": [2700, 3811], "reverse": true, "nice": false, "zero": false},
   "axis": {"orient": "bottom", "values": [3800, 3600, 3400, 3200, 3000, 2800], "labels": false, "domain": false, "tickSize": -14, "tickWidth": 2, "tickColor": "black", "title": null}},
  "y": {"field": "top", "type": "quantitative", "scale": {"domain": [4, 838], "nice": false, "zero": false}, "axis": null},
  "y2": {"field": "bot"}
 }},
{"data": {"name": "plabels"}, "mark": {"type": "text", "align": "center", "baseline": "alphabetic", "fontSize": 31, "font": "Liberation Sans", "color": "black"},
 "encoding": {
  "x": {"field": "w", "type": "quantitative", "scale": {"domain": [2700, 3811], "reverse": true, "nice": false, "zero": false},
   "axis": {"orient": "bottom", "values": [3800,3760,3720,3680,3640,3600,3560,3520,3480,3440,3400,3360,3320,3280,3240,3200,3160,3120,3080,3040,3000,2960,2920,2880,2840,2800,2760,2720], "labels": false, "domain": false, "tickSize": -7, "tickWidth": 2, "tickColor": "black", "title": null}},
  "y": {"field": "v", "type": "quantitative", "scale": {"domain": [4, 838], "nice": false, "zero": false}, "axis": null},
  "text": {"field": "t"}
 }},
{"data": {"name": "ltext"}, "mark": {"type": "text", "align": "left", "baseline": "alphabetic", "fontSize": 31, "font": "Liberation Sans", "color": "black"},
 "encoding": {
  "x": {"field": "w", "type": "quantitative", "scale": {"domain": [2700, 3811], "reverse": true, "nice": false, "zero": false},
   "axis": {"orient": "top", "values": [3800, 3600, 3400, 3200, 3000, 2800], "labels": false, "domain": false, "tickSize": -14, "tickWidth": 2, "tickColor": "black", "title": null}},
  "y": {"field": "v", "type": "quantitative", "scale": {"domain": [4, 838], "nice": false, "zero": false}, "axis": null},
  "text": {"field": "t"}
 }},
{"data": {"name": "rtext"}, "mark": {"type": "text", "align": "right", "baseline": "alphabetic", "fontSize": 31, "font": "Liberation Sans", "color": "black"},
 "encoding": {
  "x": {"field": "w", "type": "quantitative", "scale": {"domain": [2700, 3811], "reverse": true, "nice": false, "zero": false},
   "axis": {"orient": "top", "values": [3800,3760,3720,3680,3640,3600,3560,3520,3480,3440,3400,3360,3320,3280,3240,3200,3160,3120,3080,3040,3000,2960,2920,2880,2840,2800,2760,2720], "labels": false, "domain": false, "tickSize": -7, "tickWidth": 2, "tickColor": "black", "title": null}},
  "y": {"field": "v", "type": "quantitative", "scale": {"domain": [4, 838], "nice": false, "zero": false}, "axis": null},
  "text": {"field": "t"}
 }},
{"data": {"name": "ptext"}, "mark": {"type": "text", "align": "left", "baseline": "alphabetic", "fontSize": 31, "fontStyle": "italic", "font": "Liberation Sans", "color": "black"},
 "encoding": {
  "x": {"field": "w", "type": "quantitative", "scale": {"domain": [2700, 3811], "reverse": true, "nice": false, "zero": false}, "axis": null},
  "y": {"field": "v", "type": "quantitative", "scale": {"domain": [4, 838], "nice": false, "zero": false}, "axis": null},
  "text": {"field": "t"}
 }},
{"data": {"name": "stext"}, "mark": {"type": "text", "align": "left", "baseline": "alphabetic", "fontSize": 20, "font": "Liberation Sans", "color": "black"},
 "encoding": {
  "x": {"field": "w", "type": "quantitative", "scale": {"domain": [2700, 3811], "reverse": true, "nice": false, "zero": false}, "axis": null},
  "y": {"field": "v", "type": "quantitative", "scale": {"domain": [4, 838], "nice": false, "zero": false}, "axis": null},
  "text": {"field": "t"}
 }},
{"data": {"name": "bar"}, "mark": {"type": "rule", "strokeWidth": 2, "color": "black"},
 "encoding": {
  "x": {"field": "w", "type": "quantitative", "scale": {"domain": [2700, 3811], "reverse": true, "nice": false, "zero": false}, "axis": null},
  "y": {"field": "v1", "type": "quantitative", "scale": {"domain": [4, 838], "nice": false, "zero": false}, "axis": null},
  "y2": {"field": "v2"}
 }},
{"data": {"name": "caps"}, "mark": {"type": "rule", "strokeWidth": 2, "color": "black"},
 "encoding": {
  "x": {"field": "w1", "type": "quantitative", "scale": {"domain": [2700, 3811], "reverse": true, "nice": false, "zero": false}, "axis": null},
  "x2": {"field": "w2"},
  "y": {"field": "v", "type": "quantitative", "scale": {"domain": [4, 838], "nice": false, "zero": false}, "axis": null}
 }},
{"data": {"name": "ten"}, "mark": {"type": "text", "align": "left", "baseline": "alphabetic", "fontSize": 23, "font": "Liberation Sans", "color": "black"},
 "encoding": {
  "x": {"field": "w", "type": "quantitative", "scale": {"domain": [2700, 3811], "reverse": true, "nice": false, "zero": false}, "axis": null},
  "y": {"field": "v", "type": "quantitative", "scale": {"domain": [4, 838], "nice": false, "zero": false}, "axis": null},
  "text": {"field": "t"}
 }},
{"data": {"name": "exp"}, "mark": {"type": "text", "align": "left", "baseline": "alphabetic", "fontSize": 15, "font": "Liberation Sans", "color": "black"},
 "encoding": {
  "x": {"field": "w", "type": "quantitative", "scale": {"domain": [2700, 3811], "reverse": true, "nice": false, "zero": false}, "axis": null},
  "y": {"field": "v", "type": "quantitative", "scale": {"domain": [4, 838], "nice": false, "zero": false}, "axis": null},
  "text": {"field": "t"}
 }}
]
}
